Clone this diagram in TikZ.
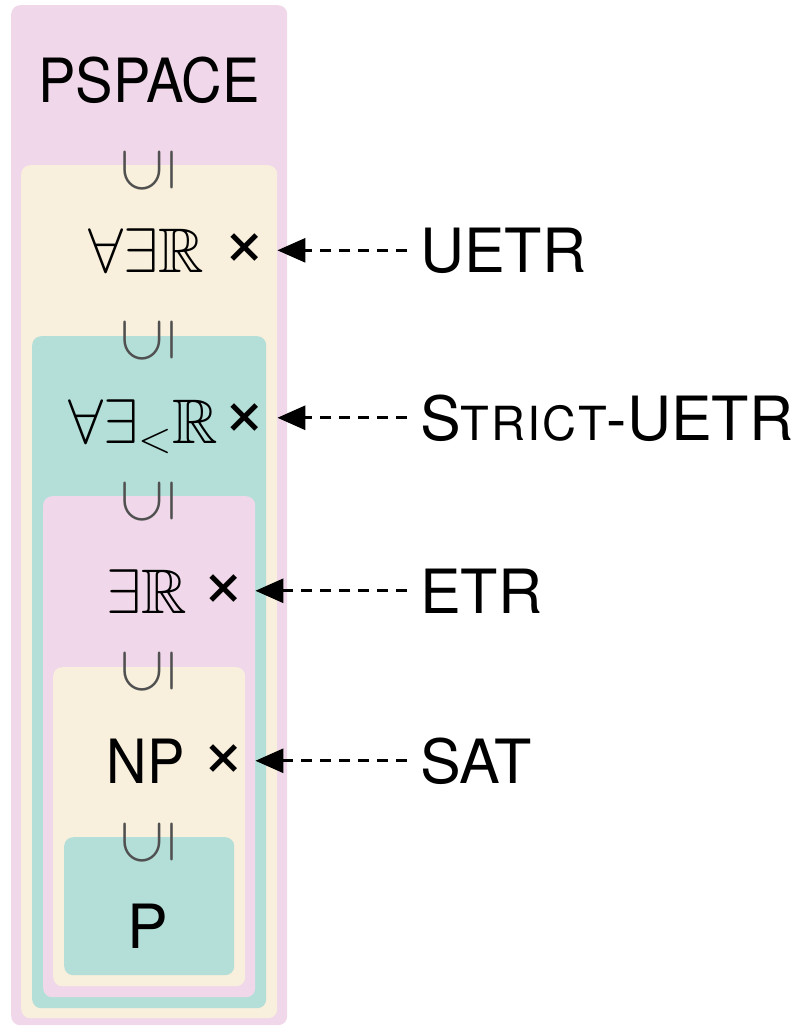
\RequirePackage{fix-cm}
\documentclass[tikz,border=0pt]{standalone}
\usepackage{amssymb}
\usepackage{fontspec}
\setmainfont{TeX Gyre Heros}
\usetikzlibrary{arrows.meta}

\definecolor{boxpink}{HTML}{F0D8EA}
\definecolor{boxcream}{HTML}{F8EFDC}
\definecolor{boxteal}{HTML}{B3DFD8}
\definecolor{relgray}{HTML}{505050}

\newcommand{\narrowtext}[1]{\scalebox{0.92}[1]{#1}}

\tikzset{
  classbox/.style={rectangle, rounded corners=9pt, inner sep=0pt, anchor=north west, draw=none},
  big/.style={font=\fontsize{61}{70}\selectfont, inner sep=0pt},
  mathlbl/.style={font=\fontsize{63}{70}\selectfont, inner sep=0pt, anchor=base east},
  subrel/.style={font=\fontsize{64}{70}\selectfont, text=relgray, inner sep=0pt, rotate=90},
  cross/.style={font=\fontsize{76}{80}\selectfont, inner sep=0pt},
  problem/.style={font=\fontsize{61}{70}\selectfont, inner xsep=13pt, inner ysep=0pt, anchor=base west},
  reduction/.style={line width=3pt, dash pattern=on 11.5pt off 7.5pt,
    -{Triangle[length=28pt,width=24pt]}},
}

\begin{document}
\begin{tikzpicture}[x=1pt,y=-1pt]
\useasboundingbox (0,0) rectangle (799,1026);

% nested complexity classes
\node[classbox, fill=boxpink,  minimum width=276pt, minimum height=1020pt] (b1) at (11,5) {};
\node[classbox, fill=boxcream, minimum width=256pt, minimum height=853pt]  (b2) at (21,165) {};
\node[classbox, fill=boxteal,  minimum width=234pt, minimum height=672pt]  (b3) at (32,336) {};
\node[classbox, fill=boxpink,  minimum width=212pt, minimum height=501pt]  (b4) at (43,496) {};
\node[classbox, fill=boxcream, minimum width=192pt, minimum height=319pt]  (b5) at (53,667) {};
\node[classbox, fill=boxteal,  minimum width=170pt, minimum height=138pt]  (b6) at (64,837) {};

% class names
\node[big, anchor=base] (pspace) at (149,102) {\narrowtext{PSPACE}};
\node[mathlbl] (uer)  at (204,272) {$\forall\exists\mathbb{R}$};
\node[mathlbl] (suer) at (218,443) {$\forall\exists_<\mathbb{R}$};
\node[mathlbl] (er)   at (187,613) {$\exists\mathbb{R}$};
\node[big, anchor=base east] (np) at (185,783) {\narrowtext{NP}};
\node[big, anchor=base] (p) at (148,948) {P};

% inclusion symbols
\node[subrel] (s1) at (148,171) {$\subseteq$};
\node[subrel] (s2) at (148,341) {$\subseteq$};
\node[subrel] (s3) at (148,502) {$\subseteq$};
\node[subrel] (s4) at (148,672) {$\subseteq$};
\node[subrel] (s5) at (148,843) {$\subseteq$};

% complete problems
\node[cross] (x1) at (245,250) {×};
\node[cross] (x2) at (245,420) {×};
\node[cross] (x3) at (224,591) {×};
\node[cross] (x4) at (224,761) {×};

\node[problem] (uetr)   at (407,272) {UETR};
\node[problem] (strict) at (407,440) {S{\fontsize{47}{50}\selectfont\addfontfeature{LetterSpace=4}TRICT}-UETR};
\node[problem] (etr)    at (407,613) {ETR};
\node[problem] (sat)    at (407,783) {SAT};

\draw[reduction] (uetr.west)   -- (uetr.west -| b2.east);
\draw[reduction] (strict.west) -- (strict.west -| b2.east);
\draw[reduction] (etr.west)    -- (etr.west -| b4.east);
\draw[reduction] (sat.west)    -- (sat.west -| b4.east);
\end{tikzpicture}
\end{document}
